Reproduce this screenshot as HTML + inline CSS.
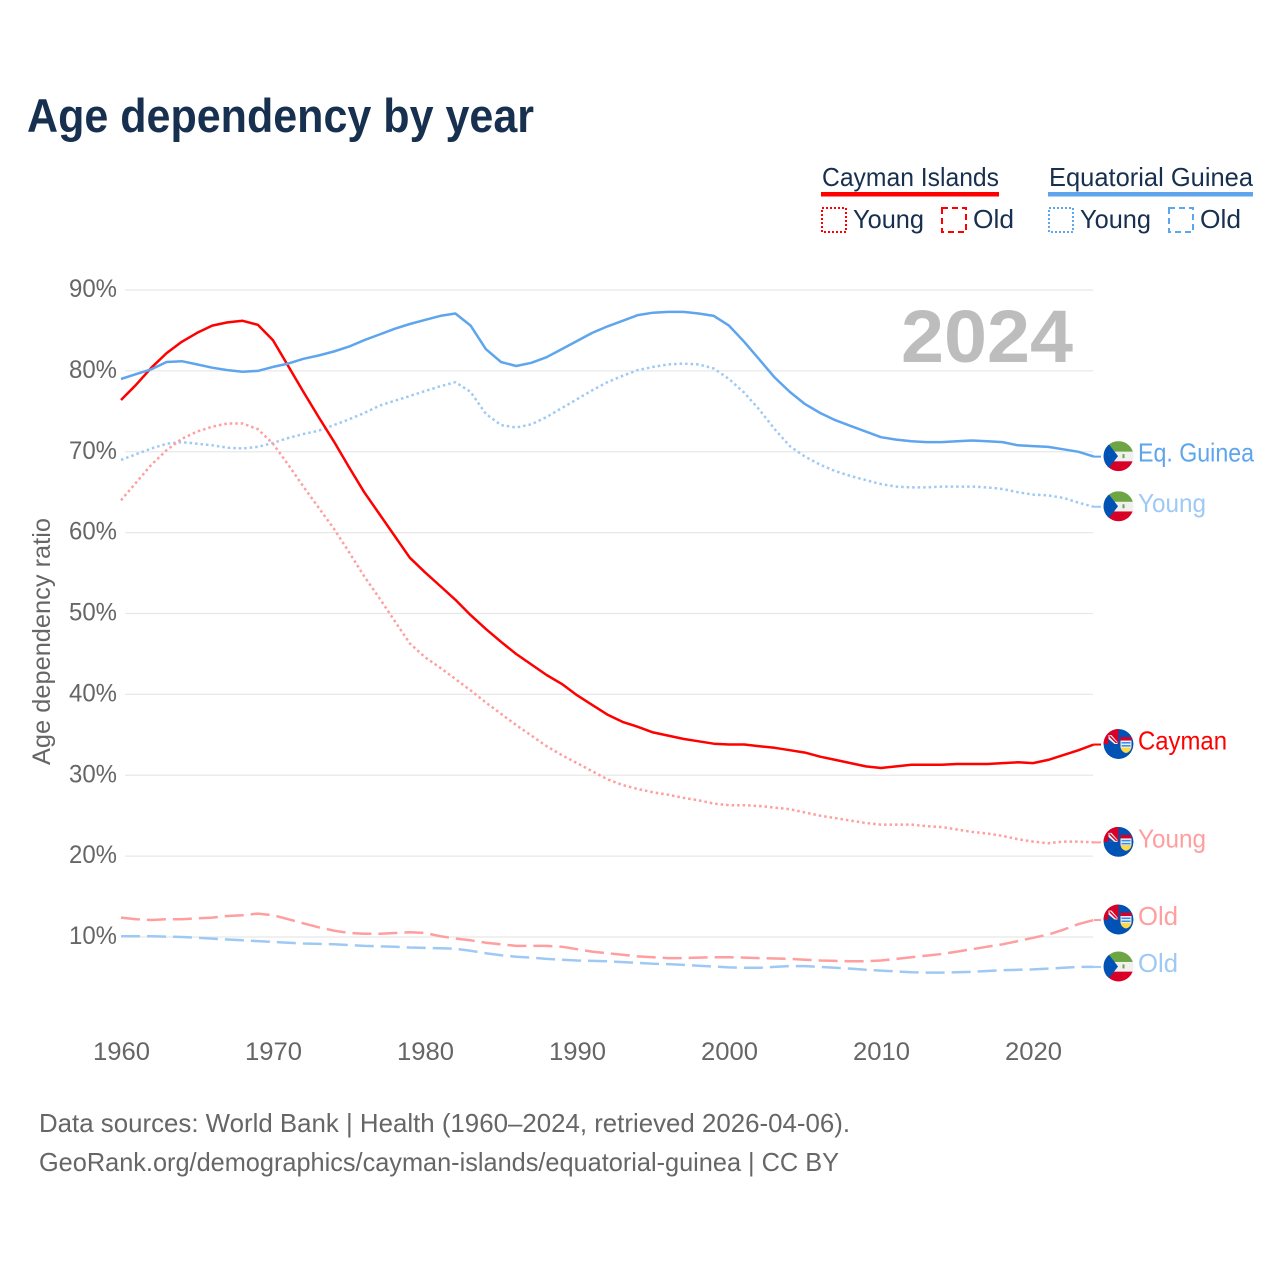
<!DOCTYPE html>
<html lang="en">
<head>
<meta charset="utf-8">
<title>Age dependency by year</title>
<style>
html,body{margin:0;padding:0;background:#fff;width:1280px;height:1280px;overflow:hidden}
svg{display:block}
text{font-family:"Liberation Sans",sans-serif}
</style>
</head>
<body>
<svg id="chart" xmlns="http://www.w3.org/2000/svg" width="1280" height="1280" viewBox="0 0 1280 1280">
  <defs>
    <clipPath id="flag-clip"><circle cx="0" cy="0" r="15"/></clipPath>
    <g id="flag-gq" clip-path="url(#flag-clip)">
      <rect x="-15" y="-15" width="30" height="30" fill="#f0f0f0"/>
      <rect x="-15" y="-15" width="30" height="10.5" fill="#6da544"/>
      <rect x="-15" y="5.2" width="30" height="10" fill="#d80027"/>
      <polygon points="-15,-19 -0.5,0 -15,19" fill="#0052b4"/>
      <rect x="4" y="-2" width="2" height="4" fill="#6da544"/>
    </g>
    <g id="flag-ky" clip-path="url(#flag-clip)">
      <circle r="15" fill="#0052b4"/>
      <rect x="-15" y="-15" width="15" height="15" fill="#d80027"/>
      <polygon points="-10,-9 -7,-9 -1,-2 -1,0 -10,0" fill="#f0f0f0"/>
      <polygon points="-10,-5 -4,0 -10,0" fill="#0052b4"/>
      <polygon points="-9,-9 -1,-1 -3,-1 -9,-7" fill="#d80027"/>
      <rect x="2" y="-7" width="11" height="3.5" fill="#d80027"/>
      <rect x="2" y="-3.5" width="11" height="7" fill="#f0f0f0"/>
      <rect x="3" y="-2" width="9" height="1.5" fill="#338af3"/>
      <rect x="3" y="1" width="9" height="1.5" fill="#338af3"/>
      <path d="M2 3.5 H13 Q12 8 7.5 9 Q3 8 2 3.5Z" fill="#ffda44"/>
    </g>
  </defs>

  <text x="27" y="132" font-size="47" font-weight="700" fill="#17304f" textLength="507" lengthAdjust="spacingAndGlyphs">Age dependency by year</text>

  <g fill="#17304f" font-size="26">
    <g>
      <text x="822" y="186" textLength="177" lengthAdjust="spacingAndGlyphs">Cayman Islands</text>
      <rect x="821" y="192" width="178" height="4.5" fill="#ff0000"/>
      <rect x="822" y="208" width="24" height="24" fill="none" stroke="#ff0000" stroke-width="2" stroke-dasharray="2 2"/>
      <text x="853" y="228" textLength="71" lengthAdjust="spacingAndGlyphs">Young</text>
      <rect x="942" y="208" width="24" height="24" fill="none" stroke="#ff0000" stroke-width="2" stroke-dasharray="6 4"/>
      <text x="973" y="228" textLength="41" lengthAdjust="spacingAndGlyphs">Old</text>
    </g>
    <g>
      <text x="1049" y="186" textLength="204" lengthAdjust="spacingAndGlyphs">Equatorial Guinea</text>
      <rect x="1048" y="192" width="205" height="4.5" fill="#5ea5ee"/>
      <rect x="1049" y="208" width="24" height="24" fill="none" stroke="#5ea5ee" stroke-width="2" stroke-dasharray="2 2"/>
      <text x="1080" y="228" textLength="71" lengthAdjust="spacingAndGlyphs">Young</text>
      <rect x="1169" y="208" width="24" height="24" fill="none" stroke="#5ea5ee" stroke-width="2" stroke-dasharray="6 4"/>
      <text x="1200" y="228" textLength="41" lengthAdjust="spacingAndGlyphs">Old</text>
    </g>
  </g>

  <g id="grid"></g>
  <g id="y-ticks"></g>
  <g id="x-ticks"></g>

  <text x="901" y="362" font-size="74" font-weight="700" fill="#bdbdbd" textLength="172" lengthAdjust="spacingAndGlyphs">2024</text>

  <text transform="translate(50,641.5) rotate(-90)" text-anchor="middle" font-size="25" fill="#666666" textLength="247" lengthAdjust="spacingAndGlyphs">Age dependency ratio</text>

  <g id="series"></g>
  <g id="end-labels"></g>

  <text x="39" y="1132" font-size="26" fill="#666666" textLength="811" lengthAdjust="spacingAndGlyphs">Data sources: World Bank | Health (1960–2024, retrieved 2026-04-06).</text>
  <text x="39" y="1171" font-size="26" fill="#666666" textLength="800" lengthAdjust="spacingAndGlyphs">GeoRank.org/demographics/cayman-islands/equatorial-guinea | CC BY</text>
</svg>

<script>
const startYear = 1960;
const yTickValues = [10, 20, 30, 40, 50, 60, 70, 80, 90];
const xTickValues = [1960, 1970, 1980, 1990, 2000, 2010, 2020];

const guineaTotal = [
  79.0,79.6,80.2,81.1,81.2,80.8,80.4,80.1,79.9,80.0,
  80.5,80.9,81.5,81.9,82.4,83.0,83.8,84.5,85.2,85.8,
  86.3,86.8,87.1,85.6,82.7,81.1,80.6,81.0,81.7,82.7,
  83.7,84.7,85.5,86.2,86.9,87.2,87.3,87.3,87.1,86.8,
  85.6,83.6,81.4,79.2,77.4,75.9,74.8,73.9,73.2,72.5,
  71.8,71.5,71.3,71.2,71.2,71.3,71.4,71.3,71.2,70.8,
  70.7,70.6,70.3,70.0,69.4];
const guineaYoung = [
  69.0,69.7,70.4,71.0,71.2,71.0,70.8,70.5,70.4,70.6,
  71.1,71.7,72.2,72.6,73.3,74.0,74.8,75.7,76.3,76.9,
  77.5,78.1,78.6,77.4,74.7,73.3,73.0,73.4,74.3,75.4,
  76.5,77.6,78.6,79.4,80.1,80.5,80.8,80.9,80.8,80.3,
  79.0,77.3,75.2,72.8,70.7,69.4,68.4,67.6,67.0,66.5,
  66.0,65.7,65.6,65.6,65.7,65.7,65.7,65.6,65.4,65.0,
  64.7,64.6,64.3,63.7,63.2];
const guineaOld = [
  10.1,10.1,10.1,10.05,10.0,9.9,9.8,9.7,9.6,9.5,
  9.4,9.3,9.2,9.15,9.1,9.0,8.9,8.85,8.8,8.7,
  8.65,8.6,8.55,8.3,8.0,7.75,7.55,7.45,7.3,7.2,
  7.1,7.05,7.0,6.9,6.8,6.7,6.65,6.55,6.45,6.35,
  6.25,6.2,6.2,6.3,6.4,6.4,6.3,6.2,6.1,5.95,
  5.85,5.75,5.65,5.6,5.6,5.65,5.7,5.8,5.9,5.95,
  6.0,6.1,6.2,6.3,6.3];
const caymanTotal = [
  76.4,78.3,80.4,82.2,83.6,84.7,85.6,86.0,86.2,85.7,
  83.8,80.6,77.4,74.3,71.3,68.1,65.0,62.3,59.6,56.9,
  55.1,53.4,51.7,49.8,48.1,46.5,45.0,43.7,42.4,41.3,
  39.9,38.7,37.5,36.6,36.0,35.3,34.9,34.5,34.2,33.9,
  33.8,33.8,33.6,33.4,33.1,32.8,32.3,31.9,31.5,31.1,
  30.9,31.1,31.3,31.3,31.3,31.4,31.4,31.4,31.5,31.6,
  31.5,31.9,32.5,33.1,33.8];
const caymanYoung = [
  64.0,66.2,68.4,70.2,71.6,72.5,73.1,73.5,73.5,72.8,
  71.0,68.4,65.7,63.1,60.5,57.6,54.6,51.9,49.1,46.3,
  44.6,43.3,41.9,40.5,39.0,37.6,36.2,34.9,33.6,32.5,
  31.5,30.5,29.5,28.8,28.3,27.9,27.6,27.2,26.9,26.5,
  26.3,26.3,26.2,26.0,25.8,25.4,25.0,24.7,24.4,24.1,
  23.9,23.9,23.9,23.7,23.6,23.3,23.0,22.8,22.5,22.1,
  21.8,21.6,21.8,21.8,21.7];
const caymanOld = [
  12.4,12.2,12.1,12.2,12.2,12.3,12.4,12.6,12.7,12.9,
  12.7,12.2,11.7,11.2,10.8,10.5,10.4,10.4,10.5,10.6,
  10.5,10.1,9.8,9.6,9.3,9.1,8.9,8.9,8.9,8.8,
  8.5,8.2,8.0,7.8,7.6,7.5,7.4,7.4,7.45,7.5,
  7.5,7.45,7.4,7.35,7.3,7.2,7.1,7.05,7.0,7.0,
  7.1,7.3,7.5,7.7,7.9,8.2,8.5,8.8,9.1,9.5,
  9.9,10.3,10.9,11.6,12.1];

const NS = 'http://www.w3.org/2000/svg';
const xScale = function (year) { return 121 + (year - startYear) * 15.2; };
const yScale = function (v) { return 1017.9 - v * 8.0875; };
const make = function (tag, attrs, parent) {
  const el = document.createElementNS(NS, tag);
  Object.keys(attrs).forEach(function (k) { el.setAttribute(k, attrs[k]); });
  parent.appendChild(el);
  return el;
};

const gridG = document.getElementById('grid');
const yG = document.getElementById('y-ticks');
yTickValues.forEach(function (v) {
  const line = make('line', {x1: 125, x2: 1093, y1: yScale(v), y2: yScale(v), stroke: '#e8e8e8', 'stroke-width': 1.2}, gridG);
  
  
  const t = make('text', {x: 117, y: yScale(v) + 7, 'text-anchor': 'end', 'font-size': 25, fill: '#666666', textLength: 48, lengthAdjust: 'spacingAndGlyphs'}, yG);
  
  
  t.textContent = v + '%';
});

const xG = document.getElementById('x-ticks');
xTickValues.forEach(function (year) {
  const t = make('text', {x: xScale(year) + 0.5, y: 1060, 'text-anchor': 'middle', 'font-size': 25, fill: '#666666', textLength: 57, lengthAdjust: 'spacingAndGlyphs'}, xG);
  
  
  t.textContent = year;
});

const drawLine = function (values, color, dash, name) {
  const pts = values.map(function (v, i) {
    return xScale(startYear + i).toFixed(1) + ',' + yScale(v).toFixed(1);
  }).join(' ');
  const poly = make('polyline', {points: pts, fill: 'none', stroke: color, 'stroke-width': 2.5, 'stroke-linejoin': 'round'}, document.getElementById('series'));
  if (dash) poly.setAttribute('stroke-dasharray', dash);
  
  
};

const drawEnd = function (values, color, flag, label, width, name) {
  const y = yScale(values[values.length - 1]);
  const endG = document.getElementById('end-labels');
  const x0 = xScale(startYear + values.length - 1);
  const conn = make('line', {x1: x0, x2: 1101, y1: y, y2: y, stroke: color, 'stroke-width': 2}, endG);
  
  
  const use = make('use', {href: '#' + flag, transform: 'translate(1118.5,' + (y - 0.5) + ')'}, endG);
  
  
  const t = make('text', {x: 1138, y: y + 5, 'font-size': 26, fill: color, textLength: width, lengthAdjust: 'spacingAndGlyphs'}, endG);
  
  
  t.textContent = label;
};

const RED = '#ff0000', BLUE = '#5ea5ee', LRED = '#ff9e9e', LBLUE = '#9fc9f5';
drawLine(guineaOld, LBLUE, '19 7', 'line-guinea-old');
drawLine(caymanOld, LRED, '19 7', 'line-cayman-old');
drawLine(guineaYoung, LBLUE, '2.5 3', 'line-guinea-young');
drawLine(caymanYoung, LRED, '2.5 3', 'line-cayman-young');
drawLine(caymanTotal, RED, null, 'line-cayman-total');
drawLine(guineaTotal, BLUE, null, 'line-guinea-total');

drawEnd(guineaTotal, BLUE, 'flag-gq', 'Eq. Guinea', 116, 'end-guinea-total');
drawEnd(guineaYoung, LBLUE, 'flag-gq', 'Young', 68, 'end-guinea-young');
drawEnd(caymanTotal, RED, 'flag-ky', 'Cayman', 89, 'end-cayman-total');
drawEnd(caymanYoung, LRED, 'flag-ky', 'Young', 68, 'end-cayman-young');
drawEnd(caymanOld, LRED, 'flag-ky', 'Old', 40, 'end-cayman-old');
drawEnd(guineaOld, LBLUE, 'flag-gq', 'Old', 40, 'end-guinea-old');
</script>
</body>
</html>
